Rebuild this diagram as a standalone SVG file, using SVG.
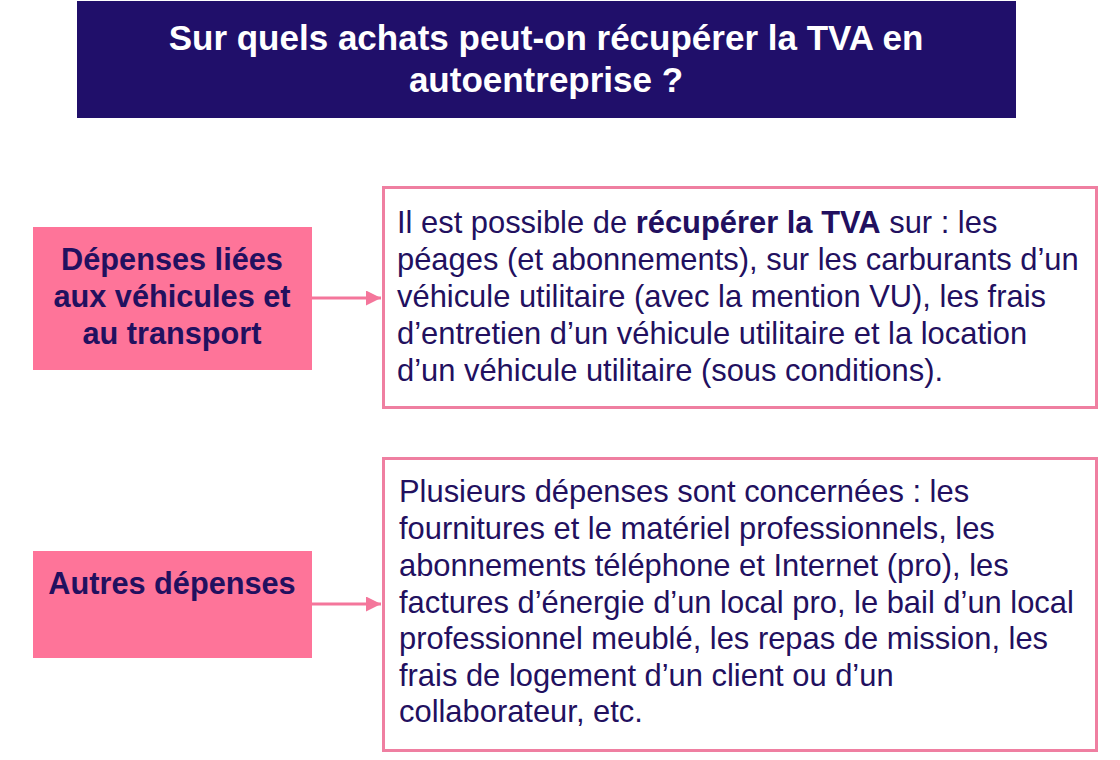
<svg xmlns="http://www.w3.org/2000/svg" width="1120" height="760" viewBox="0 0 1120 760">
<style>
.title{font-family:"Liberation Sans",Arial,sans-serif;font-weight:bold;font-size:35px;fill:#ffffff;text-anchor:middle}
.lbl{font-family:"Liberation Sans",Arial,sans-serif;font-weight:bold;font-size:30.7px;fill:#22105f;text-anchor:middle}
.body{font-family:"Liberation Sans",Arial,sans-serif;font-size:30.9px;fill:#22105f}
.pink{fill:#fe7499}
.box{fill:#ffffff;stroke:#ef7fa1;stroke-width:3}
.conn{stroke:#f4769b;stroke-width:3;fill:none}
</style>
<defs>
<marker id="ah" viewBox="0 0 10 10" refX="10" refY="5" markerWidth="7" markerHeight="5" markerUnits="strokeWidth" orient="auto">
<path d="M0,0 L10,5 L0,10 z" fill="#f4769b"/>
</marker>
</defs>
<rect width="1120" height="760" fill="#ffffff"/>
<g id="title">
<rect x="77" y="1" width="939" height="117" fill="#200f6a"/>
<text class="title" x="546" y="50">Sur quels achats peut-on récupérer la TVA en</text>
<text class="title" x="546" y="92">autoentreprise ?</text>
</g>
<g id="label1">
<rect class="pink" x="33" y="227" width="279" height="143"/>
<text class="lbl" x="172" y="270">Dépenses liées</text>
<text class="lbl" x="172" y="307">aux véhicules et</text>
<text class="lbl" x="172" y="344">au transport</text>
</g>
<g id="desc1">
<rect class="box" x="383.5" y="187.5" width="713" height="220"/>
<text class="body" x="397" y="233">Il est possible de <tspan font-weight="bold">récupérer la TVA</tspan> sur : les</text>
<text class="body" x="397" y="270">péages (et abonnements), sur les carburants d’un</text>
<text class="body" x="397" y="307">véhicule utilitaire (avec la mention VU), les frais</text>
<text class="body" x="397" y="344">d’entretien d’un véhicule utilitaire et la location</text>
<text class="body" x="397" y="381">d’un véhicule utilitaire (sous conditions).</text>
</g>
<g id="label2">
<rect class="pink" x="33" y="551" width="279" height="107"/>
<text class="lbl" x="172" y="594">Autres dépenses</text>
</g>
<g id="desc2">
<rect class="box" x="383.5" y="458.5" width="713" height="292"/>
<text class="body" x="399" y="502">Plusieurs dépenses sont concernées : les</text>
<text class="body" x="399" y="539">fournitures et le matériel professionnels, les</text>
<text class="body" x="399" y="576">abonnements téléphone et Internet (pro), les</text>
<text class="body" x="399" y="613">factures d’énergie d’un local pro, le bail d’un local</text>
<text class="body" x="399" y="649">professionnel meublé, les repas de mission, les</text>
<text class="body" x="399" y="686">frais de logement d’un client ou d’un</text>
<text class="body" x="399" y="722">collaborateur, etc.</text>
</g>
<g id="connectors">
<line class="conn" x1="312" y1="298" x2="381" y2="298" marker-end="url(#ah)"/>
<line class="conn" x1="312" y1="604" x2="381" y2="604" marker-end="url(#ah)"/>
</g>
</svg>
